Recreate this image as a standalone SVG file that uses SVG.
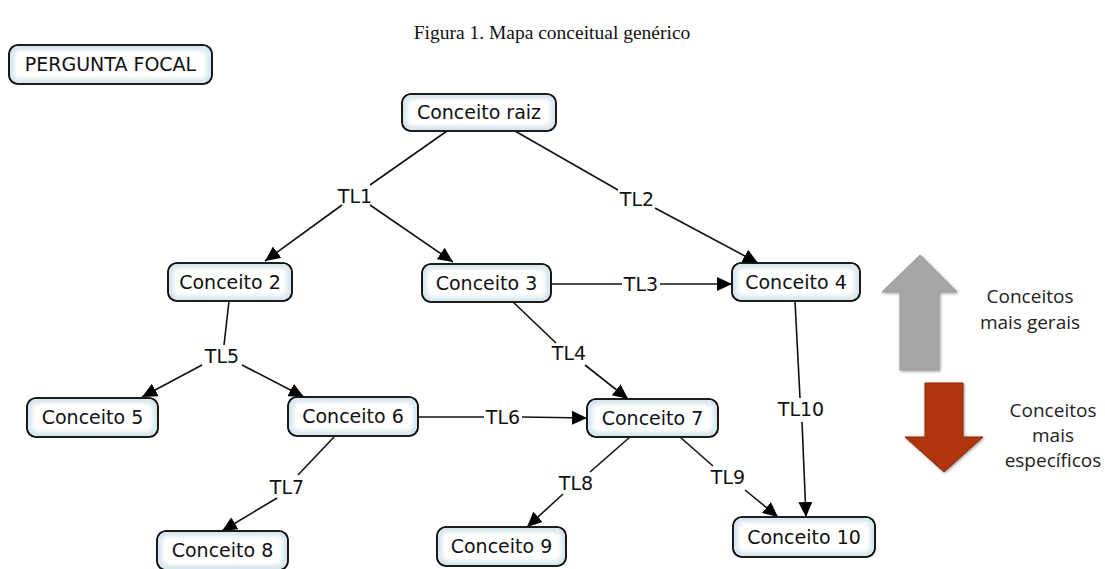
<svg xmlns="http://www.w3.org/2000/svg" width="1105" height="569" viewBox="0 0 1105 569">
<style>
.box{fill:#d6e6ec;stroke:#111;stroke-width:1.6}
.inner{fill:#fff;filter:url(#soft)}
.nt{font-family:"DejaVu Sans",Verdana,sans-serif;font-size:19px;fill:#111;text-anchor:middle}
.lt{font-family:"DejaVu Sans",Verdana,sans-serif;font-size:19px;fill:#111;text-anchor:middle}
.ln{stroke:#111;stroke-width:1.6;fill:none}
.ar{marker-end:url(#ah)}
.side{font-family:"Open Sans","DejaVu Sans",sans-serif;font-size:19px;fill:#222;text-anchor:middle}
</style>
<defs>
<filter id="soft" x="-10%" y="-30%" width="120%" height="160%"><feGaussianBlur stdDeviation="2"/></filter>
<filter id="sh" x="-20%" y="-20%" width="140%" height="140%"><feGaussianBlur in="SourceAlpha" stdDeviation="1.5"/><feOffset dx="1" dy="1"/><feComponentTransfer><feFuncA type="linear" slope="0.4"/></feComponentTransfer><feMerge><feMergeNode/><feMergeNode in="SourceGraphic"/></feMerge></filter>
<marker id="ah" markerUnits="userSpaceOnUse" markerWidth="16" markerHeight="14" refX="15" refY="7" orient="auto"><path d="M0,0 L15,7 L0,14 Z" fill="#000"/></marker>
</defs>
<rect width="1105" height="569" fill="#fff"/>
<text x="552" y="39" font-family="Liberation Serif,serif" font-size="19.5" text-anchor="middle" fill="#111">Figura 1. Mapa conceitual genérico</text>

<g id="connectors">
<path class="ln" d="M447,131 L370,185"/>
<path class="ln ar" d="M342,205 L265,261"/>
<path class="ln ar" d="M370,205 L453,262"/>
<path class="ln" d="M515,131 L618,190"/>
<path class="ln ar" d="M655,208 L758,263"/>
<path class="ln" d="M551,284 L622,284"/>
<path class="ln ar" d="M660,284 L732,284"/>
<path class="ln" d="M229,301 L224,345"/>
<path class="ln ar" d="M202,365 L142,397"/>
<path class="ln ar" d="M242,365 L304,397"/>
<path class="ln" d="M513,302 L556,343"/>
<path class="ln ar" d="M585,365 L628,399"/>
<path class="ln" d="M795,301 L800,398"/>
<path class="ln ar" d="M802,422 L806,517"/>
<path class="ln" d="M418,417 L484,417"/>
<path class="ln ar" d="M522,417 L587,418"/>
<path class="ln" d="M334,437 L298,475"/>
<path class="ln ar" d="M277,498 L222,531"/>
<path class="ln" d="M630,437 L590,472"/>
<path class="ln ar" d="M563,494 L527,527"/>
<path class="ln" d="M680,437 L713,466"/>
<path class="ln ar" d="M745,490 L778,517"/>
<text class="lt" x="355" y="203">TL1</text>
<text class="lt" x="637" y="206">TL2</text>
<text class="lt" x="641" y="291">TL3</text>
<text class="lt" x="222" y="363">TL5</text>
<text class="lt" x="569" y="360">TL4</text>
<text class="lt" x="801" y="416">TL10</text>
<text class="lt" x="503" y="424">TL6</text>
<text class="lt" x="287" y="494">TL7</text>
<text class="lt" x="576" y="490">TL8</text>
<text class="lt" x="728" y="484">TL9</text>
</g>

<g id="focal"><rect class="box" x="9" y="45" width="203" height="39" rx="9"/><rect class="inner" x="14" y="50" width="193" height="29" rx="6"/><rect x="9" y="45" width="203" height="39" rx="9" fill="none" stroke="#111" stroke-width="1.6"/><text class="nt" x="110.5" y="71">PERGUNTA FOCAL</text></g>
<g id="raiz"><rect class="box" x="402" y="94" width="154" height="37" rx="9"/><rect class="inner" x="407" y="99" width="144" height="27" rx="6"/><rect x="402" y="94" width="154" height="37" rx="9" fill="none" stroke="#111" stroke-width="1.6"/><text class="nt" x="479" y="119">Conceito raiz</text></g>
<g id="c2"><rect class="box" x="168" y="263" width="124" height="38" rx="9"/><rect class="inner" x="173" y="268" width="114" height="28" rx="6"/><rect x="168" y="263" width="124" height="38" rx="9" fill="none" stroke="#111" stroke-width="1.6"/><text class="nt" x="230" y="289">Conceito 2</text></g>
<g id="c3"><rect class="box" x="422" y="264" width="129" height="38" rx="9"/><rect class="inner" x="427" y="269" width="119" height="28" rx="6"/><rect x="422" y="264" width="129" height="38" rx="9" fill="none" stroke="#111" stroke-width="1.6"/><text class="nt" x="486.5" y="290">Conceito 3</text></g>
<g id="c4"><rect class="box" x="732" y="263" width="128" height="38" rx="9"/><rect class="inner" x="737" y="268" width="118" height="28" rx="6"/><rect x="732" y="263" width="128" height="38" rx="9" fill="none" stroke="#111" stroke-width="1.6"/><text class="nt" x="796" y="289">Conceito 4</text></g>
<g id="c5"><rect class="box" x="27" y="398" width="131" height="39" rx="9"/><rect class="inner" x="32" y="403" width="121" height="29" rx="6"/><rect x="27" y="398" width="131" height="39" rx="9" fill="none" stroke="#111" stroke-width="1.6"/><text class="nt" x="92.5" y="424">Conceito 5</text></g>
<g id="c6"><rect class="box" x="288" y="397" width="130" height="39" rx="9"/><rect class="inner" x="293" y="402" width="120" height="29" rx="6"/><rect x="288" y="397" width="130" height="39" rx="9" fill="none" stroke="#111" stroke-width="1.6"/><text class="nt" x="353" y="423">Conceito 6</text></g>
<g id="c7"><rect class="box" x="587" y="399" width="131" height="38" rx="9"/><rect class="inner" x="592" y="404" width="121" height="28" rx="6"/><rect x="587" y="399" width="131" height="38" rx="9" fill="none" stroke="#111" stroke-width="1.6"/><text class="nt" x="652.5" y="425">Conceito 7</text></g>
<g id="c8"><rect class="box" x="157" y="531" width="131" height="39" rx="9"/><rect class="inner" x="162" y="536" width="121" height="29" rx="6"/><rect x="157" y="531" width="131" height="39" rx="9" fill="none" stroke="#111" stroke-width="1.6"/><text class="nt" x="222.5" y="557">Conceito 8</text></g>
<g id="c9"><rect class="box" x="437" y="527" width="129" height="39" rx="9"/><rect class="inner" x="442" y="532" width="119" height="29" rx="6"/><rect x="437" y="527" width="129" height="39" rx="9" fill="none" stroke="#111" stroke-width="1.6"/><text class="nt" x="501.5" y="553">Conceito 9</text></g>
<g id="c10"><rect class="box" x="733" y="517" width="142" height="40" rx="9"/><rect class="inner" x="738" y="522" width="132" height="30" rx="6"/><rect x="733" y="517" width="142" height="40" rx="9" fill="none" stroke="#111" stroke-width="1.6"/><text class="nt" x="804" y="544">Conceito 10</text></g>

<g id="legend">
<path d="M920,255 L957,292 L939,292 L939,370 L900,370 L900,292 L882,292 Z" fill="#a6a6a6" stroke="#9a9a9a" stroke-width="1" filter="url(#sh)"/>
<path d="M925,383 L963,383 L963,437 L983,437 L944,472 L905,437 L925,437 Z" fill="#b03408" stroke="#8a2a06" stroke-width="1" filter="url(#sh)"/>
<text class="side" x="1030" y="303">Conceitos</text>
<text class="side" x="1030" y="329">mais gerais</text>
<text class="side" x="1053" y="417">Conceitos</text>
<text class="side" x="1053" y="442">mais</text>
<text class="side" x="1053" y="467">específicos</text>
</g>
</svg>
